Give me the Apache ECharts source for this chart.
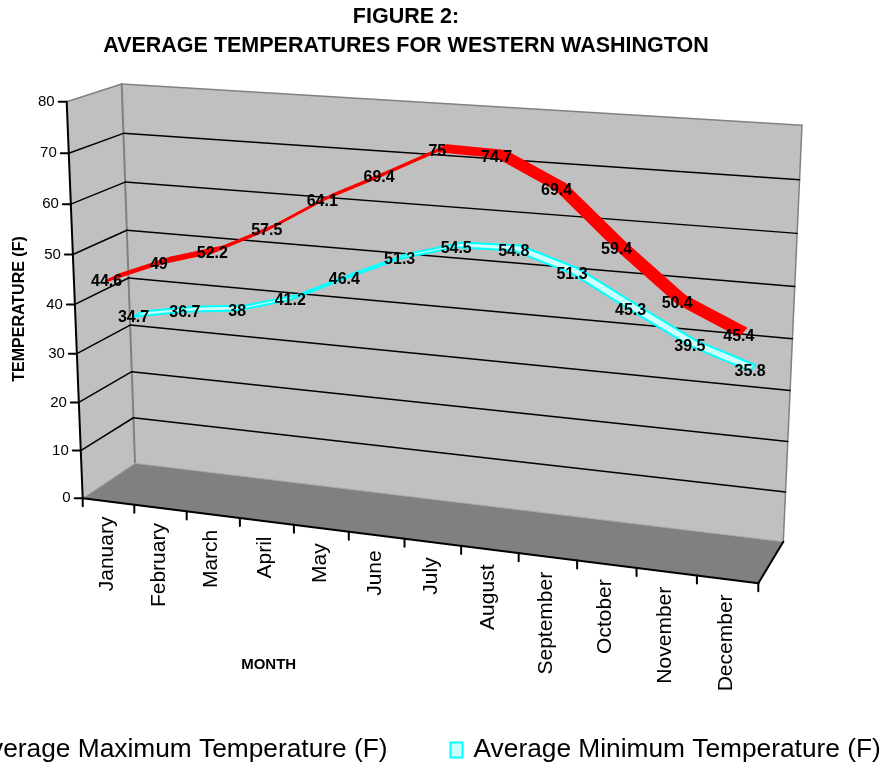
<!DOCTYPE html>
<html>
<head>
<meta charset="utf-8">
<script src="https://cdn.jsdelivr.net/npm/echarts@6/dist/echarts.min.js"></script>
<style>
  html, body { margin: 0; padding: 0; background: #ffffff; }
  #chart { width: 889px; height: 767px; }
</style>
</head>
<body>
<div id="chart"></div>
<script>
// ---- data ----
const months = ['January', 'February', 'March', 'April', 'May', 'June', 'July',
  'August', 'September', 'October', 'November', 'December'];
const maxTemps = [44.6, 49, 52.2, 57.5, 64.1, 69.4, 75, 74.7, 69.4, 59.4, 50.4, 45.4];
const minTemps = [34.7, 36.7, 38, 41.2, 46.4, 51.3, 54.5, 54.8, 51.3, 45.3, 39.5, 35.8];
const tempTicks = [0, 10, 20, 30, 40, 50, 60, 70, 80];
const maxName = 'Average Maximum Temperature (F)';
const minName = 'Average Minimum Temperature (F)';

// ---- 3-D box projection ----
// screen corners (bottom-left, bottom-right, top-right, top-left) of the
// front plane (depth 0) and the back wall (depth 1)
const FRONT_PLANE = [[82.7, 498.3], [758.3, 583.3], [774.3, 149.6], [66.7, 101.7]];
const BACK_PLANE = [[135, 463.3], [783.3, 541.7], [802, 125.3], [121.7, 84]];

function squareToQuad(q) {
  const [x0, y0] = q[0], [x1, y1] = q[1], [x2, y2] = q[2], [x3, y3] = q[3];
  const dx1 = x1 - x2, dy1 = y1 - y2, dx2 = x3 - x2, dy2 = y3 - y2;
  const dx3 = x0 - x1 + x2 - x3, dy3 = y0 - y1 + y2 - y3;
  const den = dx1 * dy2 - dx2 * dy1;
  const g = (dx3 * dy2 - dx2 * dy3) / den;
  const h = (dx1 * dy3 - dx3 * dy1) / den;
  const a = x1 - x0 + g * x1, b = x3 - x0 + h * x3, c = x0;
  const d = y1 - y0 + g * y1, e = y3 - y0 + h * y3, f = y0;
  return function (u, v) {
    const w = g * u + h * v + 1;
    return [(a * u + b * v + c) / w, (d * u + e * v + f) / w];
  };
}
const frontMap = squareToQuad(FRONT_PLANE);
const backMap = squareToQuad(BACK_PLANE);
function project(u, v, z) {
  const p = frontMap(u, v), q = backMap(u, v);
  return [p[0] + (q[0] - p[0]) * z, p[1] + (q[1] - p[1]) * z];
}
// category/value -> unit coordinates of the plot box, via the cartesian axes
function toUV(params, api, cat, val) {
  const cs = params.coordSys;
  const p = api.coord([cat, val]);
  return [(p[0] - cs.x) / cs.width, (cs.y + cs.height - p[1]) / cs.height];
}

const FONT = '"Liberation Sans", Arial, sans-serif';
const line = (p, q, stroke, lineWidth, z2) => ({
  type: 'line', z2: z2 || 0,
  shape: { x1: p[0], y1: p[1], x2: q[0], y2: q[1] },
  style: { stroke: stroke, lineWidth: lineWidth, lineCap: 'round' }
});

// ---- walls and floor ----
function renderBox(params, api) {
  const P = project;
  const wallFill = '#c0c0c0', edge = '#808080';
  return {
    type: 'group',
    children: [
      { type: 'polygon', shape: { points: [P(0, 0, 0), P(0, 1, 0), P(0, 1, 1), P(0, 0, 1)] },
        style: { fill: wallFill } },
      { type: 'polygon', shape: { points: [P(0, 0, 1), P(1, 0, 1), P(1, 1, 1), P(0, 1, 1)] },
        style: { fill: wallFill } },
      { type: 'polygon', shape: { points: [P(0, 0, 0), P(1, 0, 0), P(1, 0, 1), P(0, 0, 1)] },
        style: { fill: '#808080' } },
      line(P(0, 1, 0), P(0, 1, 1), edge, 1.5, 1),
      line(P(0, 1, 1), P(1, 1, 1), edge, 1.5, 1),
      line(P(1, 1, 1), P(1, 0, 1), edge, 1.5, 1),
      line(P(0, 0, 1), P(0, 1, 1), edge, 2, 1),
      line(P(0, 0, 1), P(1, 0, 1), '#a8a8a8', 1, 1),
      line(P(0, 0, 0), P(0, 0, 1), '#a8a8a8', 1, 1),
      line(P(1, 0, 0), P(1, 0, 1), '#000000', 2, 1)
    ]
  };
}

// ---- value axis: gridlines, ticks, labels ----
function renderTempAxis(params, api) {
  const t = api.value(1);
  const v = toUV(params, api, 0, t)[1];
  const children = [];
  const front = project(0, v, 0);
  if (t > 0 && t < 80) {
    children.push(line(front, project(0, v, 1), '#000000', 1.5));
    children.push(line(project(0, v, 1), project(1, v, 1), '#000000', 1.5));
  }
  if (t === 0) {
    children.push(line(project(0, 0, 0), project(0, 1, 0), '#000000', 2, 2));
  }
  children.push(line(front, [front[0] - 8, front[1]], '#000000', 2, 2));
  children.push({
    type: 'text', x: front[0] - 12, y: front[1],
    style: { text: String(t), fill: '#000000', fontSize: 15, fontFamily: FONT,
      align: 'right', verticalAlign: 'middle' }
  });
  return { type: 'group', children: children };
}

// ---- category axis: ticks and rotated month labels ----
function renderMonthAxis(params, api) {
  const i = params.dataIndex;
  const cs = params.coordSys;
  const uv = toUV(params, api, i, 0);
  const halfBand = api.size([1, 0])[0] / cs.width / 2;
  const children = [];
  const tickAt = (u) => {
    const p = project(u, 0, 0);
    children.push(line(p, [p[0], p[1] + 8], '#000000', 2, 2));
  };
  tickAt(uv[0] - halfBand);
  if (i === months.length - 1) tickAt(uv[0] + halfBand);
  if (i === 0) children.push(line(project(0, 0, 0), project(1, 0, 0), '#000000', 2, 2));
  const c = project(uv[0], 0, 0);
  children.push({
    type: 'text', x: c[0] - 1.5, y: c[1] + 15, rotation: Math.PI / 2,
    style: { text: months[i], fill: '#000000', fontSize: 21, fontFamily: FONT,
      align: 'right', verticalAlign: 'middle' }
  });
  return { type: 'group', children: children };
}

// ---- ribbon lines ----
function ribbonRenderer(values, z0, depth, fill, stroke, lineWidth) {
  return function (params, api) {
    const i = params.dataIndex;
    const uv = toUV(params, api, i, values[i]);
    const children = [];
    const f0 = project(uv[0], uv[1], z0), b0 = project(uv[0], uv[1], z0 + depth);
    if (i < values.length - 1) {
      const nx = toUV(params, api, i + 1, values[i + 1]);
      const f1 = project(nx[0], nx[1], z0), b1 = project(nx[0], nx[1], z0 + depth);
      children.push({ type: 'polygon', z2: 0, shape: { points: [f0, f1, b1, b0] },
        style: { fill: fill, stroke: fill, lineWidth: 1, lineJoin: 'round' } });
      children.push(line(f0, f1, stroke, lineWidth, 1));
      children.push(line(b0, b1, stroke, lineWidth, 1));
    }
    if (i === 0 || i === values.length - 1) children.push(line(f0, b0, stroke, lineWidth, 1));
    children.push({
      type: 'text', z2: 5, x: f0[0], y: f0[1] + 1,
      style: { text: String(values[i]), fill: '#000000', fontSize: 16, fontWeight: 'bold',
        fontFamily: FONT, align: 'center', verticalAlign: 'middle' }
    });
    return { type: 'group', children: children };
  };
}

const chart = echarts.init(document.getElementById('chart'));
chart.setOption({
  animation: false,
  backgroundColor: '#ffffff',
  title: {
    text: 'FIGURE 2:\nAVERAGE TEMPERATURES FOR WESTERN WASHINGTON',
    left: 406, top: 3, textAlign: 'center', padding: 0,
    textStyle: { fontSize: 21.5, fontWeight: 'bold', fontFamily: FONT, color: '#000000', lineHeight: 29 }
  },
  legend: {
    left: -55, top: 732, width: 1200, icon: 'rect', itemWidth: 12, itemHeight: 15, itemGap: 62,
    selectedMode: false,
    textStyle: { fontSize: 26.3, fontFamily: FONT, color: '#000000', padding: [0, 0, 0, 6] },
    data: [
      { name: maxName, itemStyle: { color: '#ff0000' } },
      { name: minName, itemStyle: { color: '#ccffff', borderColor: '#00ffff', borderWidth: 2 } }
    ]
  },
  grid: { left: 0, top: 0, width: 600, height: 400, show: false },
  xAxis: { type: 'category', data: months, show: false, boundaryGap: true },
  yAxis: { type: 'value', min: 0, max: 80, interval: 10, show: false },
  graphic: [
    { type: 'text', x: 20, y: 309, rotation: Math.PI / 2,
      style: { text: 'TEMPERATURE (F)', fill: '#000000', fontSize: 16, fontWeight: 'bold',
        fontFamily: FONT, align: 'center', verticalAlign: 'middle' } },
    { type: 'text', x: 268.7, y: 665,
      style: { text: 'MONTH', fill: '#000000', fontSize: 15, fontWeight: 'bold',
        fontFamily: FONT, align: 'center', verticalAlign: 'middle' } }
  ],
  series: [
    { type: 'custom', name: 'box', silent: true, z: 1, clip: false,
      data: [[0, 0]], renderItem: renderBox },
    { type: 'custom', name: 'temperature axis', silent: true, z: 2, clip: false,
      data: tempTicks.map(t => [0, t]), renderItem: renderTempAxis },
    { type: 'custom', name: 'month axis', silent: true, z: 2, clip: false,
      data: months.map((m, i) => [i, 0]), renderItem: renderMonthAxis },
    { type: 'custom', name: minName, silent: true, z: 3, clip: false,
      itemStyle: { color: '#ccffff', borderColor: '#00ffff' },
      data: minTemps.map((v, i) => [i, v]),
      renderItem: ribbonRenderer(minTemps, 0.6, 0.18, '#ccffff', '#00ffff', 2) },
    { type: 'custom', name: maxName, silent: true, z: 4, clip: false,
      itemStyle: { color: '#ff0000' },
      data: maxTemps.map((v, i) => [i, v]),
      renderItem: ribbonRenderer(maxTemps, 0.12, 0.24, '#ff0000', '#ff0000', 2.5) }
  ]
});
</script>
</body>
</html>
